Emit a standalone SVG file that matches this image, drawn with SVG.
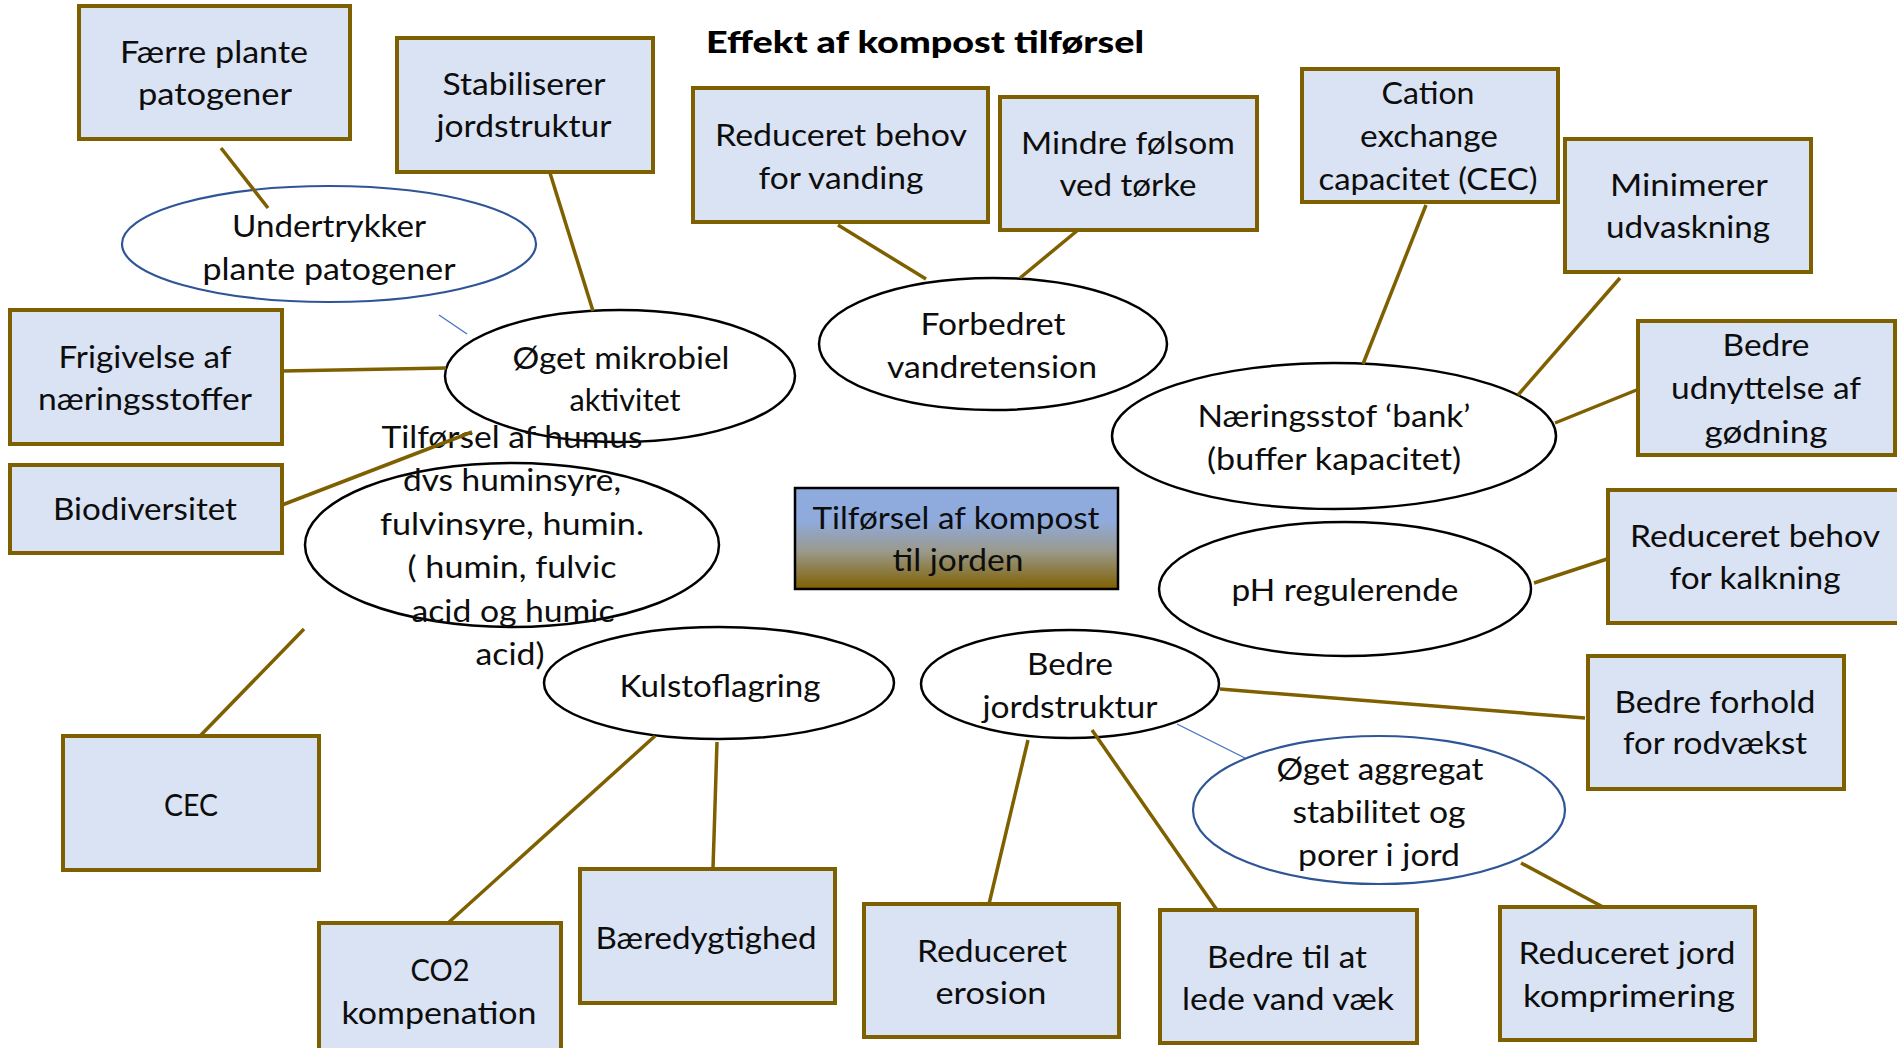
<svg xmlns="http://www.w3.org/2000/svg" width="1897" height="1048" viewBox="0 0 1897 1048">
<style>
.box{fill:#DAE3F3;stroke:#7F6000;stroke-width:4}
.ell{fill:#FFFFFF;stroke:#000000;stroke-width:2.5}
.ellb{fill:#FFFFFF;stroke:#2F5597;stroke-width:2.2}
.conn{stroke:#7F6000;stroke-width:3.5;fill:none}
.thin{stroke:#4472C4;stroke-width:1.3;fill:none}
text{font-family:Lato,"Open Sans","Liberation Sans",sans-serif;font-size:31px;text-anchor:middle;fill:#0D0D0D}
.title{font-weight:900;font-size:31px;fill:#000}
</style>
<defs>
<linearGradient id="grad" x1="0" y1="0" x2="0" y2="1">
<stop offset="0" stop-color="#8FAADC"/>
<stop offset="0.33" stop-color="#8FAADC"/>
<stop offset="0.62" stop-color="#9A9A8E"/>
<stop offset="1" stop-color="#806000"/>
</linearGradient>
</defs>
<rect width="1897" height="1048" fill="#FFFFFF"/>
<text class="title" x="925" y="53" textLength="438" lengthAdjust="spacingAndGlyphs">Effekt af kompost tilførsel</text>
<g id="nodes">
<g id="center"><rect x="795" y="488" width="323" height="101" fill="url(#grad)" stroke="#000" stroke-width="2.5"/>
<text x="956" y="529" textLength="287" lengthAdjust="spacingAndGlyphs">Tilførsel af kompost</text>
<text x="958" y="571" textLength="131" lengthAdjust="spacingAndGlyphs">til jorden</text></g>
<g id="faerre"><rect class="box" x="79" y="6" width="271" height="133"/>
<text x="214" y="63" textLength="188" lengthAdjust="spacingAndGlyphs">Færre plante</text>
<text x="215" y="105" textLength="154" lengthAdjust="spacingAndGlyphs">patogener</text></g>
<g id="stabiliserer"><rect class="box" x="397" y="38" width="256" height="134"/>
<text x="524" y="95" textLength="163" lengthAdjust="spacingAndGlyphs">Stabiliserer</text>
<text x="524" y="137" textLength="175" lengthAdjust="spacingAndGlyphs">jordstruktur</text></g>
<g id="vanding"><rect class="box" x="693" y="88" width="295" height="134"/>
<text x="841" y="146" textLength="252" lengthAdjust="spacingAndGlyphs">Reduceret behov</text>
<text x="841" y="189" textLength="165" lengthAdjust="spacingAndGlyphs">for vanding</text></g>
<g id="toerke"><rect class="box" x="1000" y="97" width="257" height="133"/>
<text x="1128" y="154" textLength="214" lengthAdjust="spacingAndGlyphs">Mindre følsom</text>
<text x="1128" y="196" textLength="137" lengthAdjust="spacingAndGlyphs">ved tørke</text></g>
<g id="cation"><rect class="box" x="1302" y="69" width="256" height="133"/>
<text x="1428" y="104" textLength="93" lengthAdjust="spacingAndGlyphs">Cation</text>
<text x="1429" y="147" textLength="138" lengthAdjust="spacingAndGlyphs">exchange</text>
<text x="1428" y="190" textLength="219" lengthAdjust="spacingAndGlyphs">capacitet (CEC)</text></g>
<g id="minimerer"><rect class="box" x="1565" y="139" width="246" height="133"/>
<text x="1689" y="196" textLength="158" lengthAdjust="spacingAndGlyphs">Minimerer</text>
<text x="1688" y="238" textLength="164" lengthAdjust="spacingAndGlyphs">udvaskning</text></g>
<g id="udnyttelse"><rect class="box" x="1638" y="321" width="257" height="134"/>
<text x="1766" y="356" textLength="87" lengthAdjust="spacingAndGlyphs">Bedre</text>
<text x="1766" y="399" textLength="190" lengthAdjust="spacingAndGlyphs">udnyttelse af</text>
<text x="1766" y="443" textLength="123" lengthAdjust="spacingAndGlyphs">gødning</text></g>
<g id="kalkning"><rect class="box" x="1608" y="490" width="295" height="133"/>
<text x="1755" y="547" textLength="250" lengthAdjust="spacingAndGlyphs">Reduceret behov</text>
<text x="1755" y="589" textLength="171" lengthAdjust="spacingAndGlyphs">for kalkning</text></g>
<g id="rodvaekst"><rect class="box" x="1588" y="656" width="256" height="133"/>
<text x="1715" y="713" textLength="201" lengthAdjust="spacingAndGlyphs">Bedre forhold</text>
<text x="1715" y="754" textLength="184" lengthAdjust="spacingAndGlyphs">for rodvækst</text></g>
<g id="komprimering"><rect class="box" x="1500" y="907" width="255" height="133"/>
<text x="1627" y="964" textLength="217" lengthAdjust="spacingAndGlyphs">Reduceret jord</text>
<text x="1629" y="1007" textLength="212" lengthAdjust="spacingAndGlyphs">komprimering</text></g>
<g id="ledevand"><rect class="box" x="1160" y="910" width="257" height="133"/>
<text x="1287" y="968" textLength="160" lengthAdjust="spacingAndGlyphs">Bedre til at</text>
<text x="1288" y="1010" textLength="212" lengthAdjust="spacingAndGlyphs">lede vand væk</text></g>
<g id="erosion"><rect class="box" x="864" y="904" width="255" height="133"/>
<text x="992" y="962" textLength="150" lengthAdjust="spacingAndGlyphs">Reduceret</text>
<text x="991" y="1004" textLength="111" lengthAdjust="spacingAndGlyphs">erosion</text></g>
<g id="baeredygtighed"><rect class="box" x="580" y="869" width="255" height="134"/>
<text x="706" y="949" textLength="221" lengthAdjust="spacingAndGlyphs">Bæredygtighed</text></g>
<g id="co2"><rect class="box" x="319" y="923" width="242" height="140"/>
<text x="440" y="981" textLength="59" lengthAdjust="spacingAndGlyphs">CO2</text>
<text x="439" y="1024" textLength="195" lengthAdjust="spacingAndGlyphs">kompenation</text></g>
<g id="cec"><rect class="box" x="63" y="736" width="256" height="134"/>
<text x="191" y="816" textLength="54" lengthAdjust="spacingAndGlyphs">CEC</text></g>
<g id="biodiversitet"><rect class="box" x="10" y="465" width="272" height="88"/>
<text x="145" y="520" textLength="184" lengthAdjust="spacingAndGlyphs">Biodiversitet</text></g>
<g id="frigivelse"><rect class="box" x="10" y="310" width="272" height="134"/>
<text x="145" y="368" textLength="173" lengthAdjust="spacingAndGlyphs">Frigivelse af</text>
<text x="145" y="410" textLength="214" lengthAdjust="spacingAndGlyphs">næringsstoffer</text></g>
<g id="undertrykker"><ellipse class="ellb" cx="329" cy="244" rx="207" ry="58"/>
<text x="329" y="237" textLength="194" lengthAdjust="spacingAndGlyphs">Undertrykker</text>
<text x="329" y="280" textLength="253" lengthAdjust="spacingAndGlyphs">plante patogener</text></g>
<g id="mikrobiel"><ellipse class="ell" cx="620" cy="376" rx="175" ry="66"/>
<text x="621" y="369" textLength="217" lengthAdjust="spacingAndGlyphs">Øget mikrobiel</text>
<text x="625" y="411" textLength="111" lengthAdjust="spacingAndGlyphs">aktivitet</text></g>
<g id="vandretension"><ellipse class="ell" cx="993" cy="344" rx="174" ry="66"/>
<text x="993" y="335" textLength="145" lengthAdjust="spacingAndGlyphs">Forbedret</text>
<text x="992" y="378" textLength="210" lengthAdjust="spacingAndGlyphs">vandretension</text></g>
<g id="bank"><ellipse class="ell" cx="1334" cy="436" rx="222" ry="73"/>
<text x="1334" y="427" textLength="273" lengthAdjust="spacingAndGlyphs">Næringsstof ‘bank’</text>
<text x="1334" y="470" textLength="254" lengthAdjust="spacingAndGlyphs">(buffer kapacitet)</text></g>
<g id="ph"><ellipse class="ell" cx="1345" cy="589" rx="186" ry="67"/>
<text x="1345" y="601" textLength="227" lengthAdjust="spacingAndGlyphs">pH regulerende</text></g>
<g id="humus"><ellipse class="ell" cx="512" cy="545" rx="207" ry="82"/>
<text x="512" y="448" textLength="261" lengthAdjust="spacingAndGlyphs">Tilførsel af humus</text>
<text x="512" y="491" textLength="218" lengthAdjust="spacingAndGlyphs">dvs huminsyre,</text>
<text x="512" y="535" textLength="264" lengthAdjust="spacingAndGlyphs">fulvinsyre, humin.</text>
<text x="512" y="578" textLength="209" lengthAdjust="spacingAndGlyphs">( humin, fulvic</text>
<text x="513" y="622" textLength="203" lengthAdjust="spacingAndGlyphs">acid og humic</text>
<text x="510" y="665" textLength="69" lengthAdjust="spacingAndGlyphs">acid)</text></g>
<g id="kulstof"><ellipse class="ell" cx="719" cy="683" rx="175" ry="56"/>
<text x="720" y="697" textLength="201" lengthAdjust="spacingAndGlyphs">Kulstoflagring</text></g>
<g id="jordstruktur"><ellipse class="ell" cx="1070" cy="684" rx="149" ry="54"/>
<text x="1070" y="675" textLength="86" lengthAdjust="spacingAndGlyphs">Bedre</text>
<text x="1070" y="718" textLength="175" lengthAdjust="spacingAndGlyphs">jordstruktur</text></g>
<g id="aggregat"><ellipse class="ellb" cx="1379" cy="810" rx="186" ry="74"/>
<text x="1380" y="780" textLength="207" lengthAdjust="spacingAndGlyphs">Øget aggregat</text>
<text x="1379" y="823" textLength="173" lengthAdjust="spacingAndGlyphs">stabilitet og</text>
<text x="1379" y="866" textLength="162" lengthAdjust="spacingAndGlyphs">porer i jord</text></g>
</g>
<g id="connectors">
<line class="conn" x1="221" y1="148" x2="268" y2="208"/>
<line class="thin" x1="439" y1="315" x2="467" y2="334"/>
<line class="conn" x1="550" y1="173" x2="593" y2="311"/>
<line class="conn" x1="282" y1="371" x2="446" y2="368"/>
<line class="conn" x1="282" y1="505" x2="472" y2="432"/>
<line class="conn" x1="304" y1="629" x2="200" y2="736"/>
<line class="conn" x1="655" y1="736" x2="448" y2="923"/>
<line class="conn" x1="717" y1="742" x2="713" y2="869"/>
<line class="conn" x1="838" y1="225" x2="926" y2="279"/>
<line class="conn" x1="1078" y1="230" x2="1020" y2="278"/>
<line class="conn" x1="1426" y1="205" x2="1363" y2="364"/>
<line class="conn" x1="1620" y1="278" x2="1518" y2="395"/>
<line class="conn" x1="1639" y1="389" x2="1555" y2="423"/>
<line class="conn" x1="1607" y1="559" x2="1534" y2="583"/>
<line class="conn" x1="1220" y1="689" x2="1585" y2="718"/>
<line class="thin" x1="1177" y1="724" x2="1245" y2="758"/>
<line class="conn" x1="1028" y1="740" x2="989" y2="904"/>
<line class="conn" x1="1092" y1="730" x2="1217" y2="910"/>
<line class="conn" x1="1521" y1="863" x2="1603" y2="907"/>
</g>
</svg>
